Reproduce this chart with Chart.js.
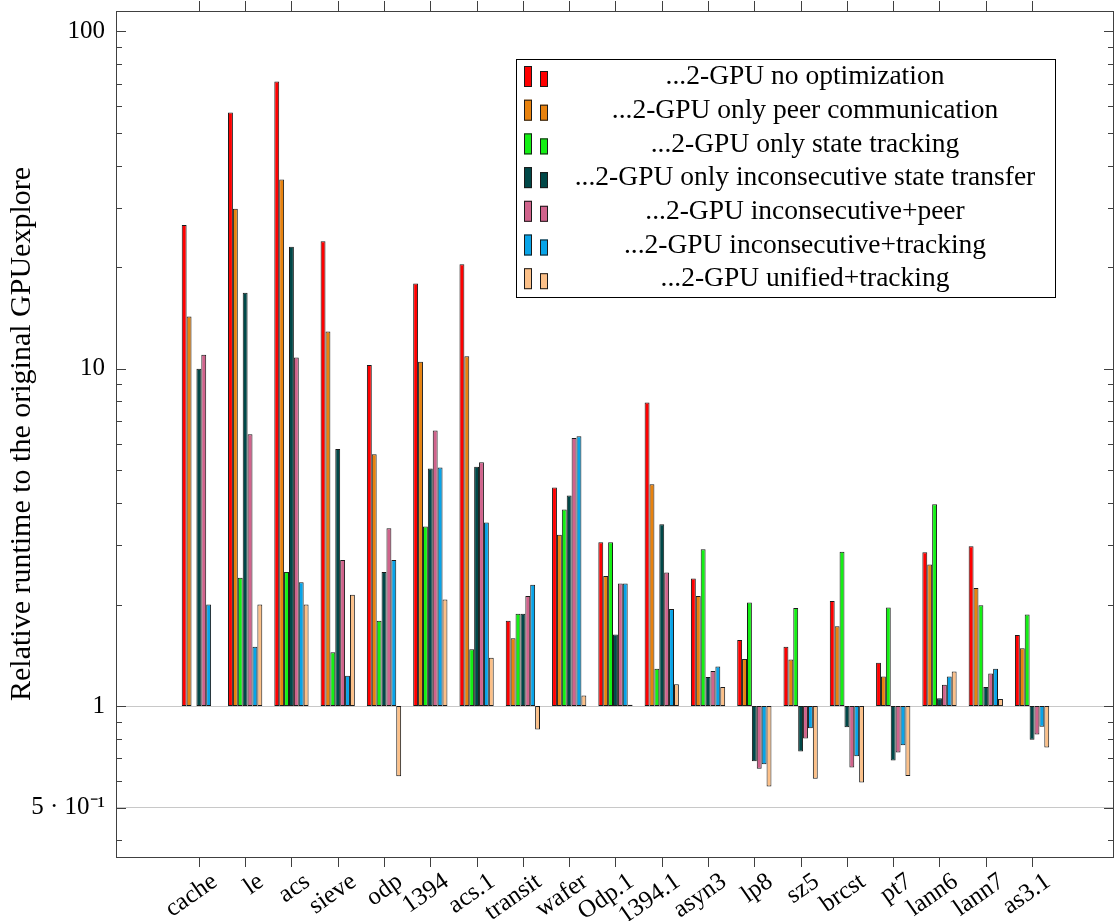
<!DOCTYPE html>
<html>
<head>
<meta charset="utf-8">
<script src="https://cdn.jsdelivr.net/npm/chart.js@4.4.0/dist/chart.umd.min.js"></script>
<style>
  html, body { margin: 0; padding: 0; background: #fff; }
  #wrap { width: 1115px; height: 921px; }
</style>
</head>
<body>
<div id="wrap"><canvas id="chart" width="1115" height="921"></canvas></div>
<script>
// ===== DATA =====
const categories = ['cache', 'le', 'acs', 'sieve', 'odp', '1394', 'acs.1', 'transit', 'wafer', 'Odp.1',
  '1394.1', 'asyn3', 'lp8', 'sz5', 'brcst', 'pt7', 'lann6', 'lann7', 'as3.1'];

const seriesLabels = [
  '...2-GPU no optimization',
  '...2-GPU only peer communication',
  '...2-GPU only state tracking',
  '...2-GPU only inconsecutive state transfer',
  '...2-GPU inconsecutive+peer',
  '...2-GPU inconsecutive+tracking',
  '...2-GPU unified+tracking'
];

const noOptimization  = [26.7, 57.5, 71.1, 23.9, 10.26, 17.9, 20.4, 1.79, 4.45, 3.06, 7.94, 2.39, 1.57, 1.50, 2.05, 1.344, 2.86, 2.98, 1.626];
const peerComm        = [14.3, 29.8, 36.4, 12.9, 5.58, 10.5, 10.9, 1.59, 3.22, 2.43, 4.55, 2.12, 1.38, 1.375, 1.726, 1.224, 2.63, 2.24, 1.485];
const stateTracking   = [1.0, 2.40, 2.50, 1.445, 1.79, 3.41, 1.475, 1.88, 3.83, 3.06, 1.29, 2.92, 2.03, 1.955, 2.87, 1.96, 3.97, 1.99, 1.87];
const inconsecutive   = [10.0, 16.8, 23.0, 5.78, 2.50, 5.06, 5.12, 1.88, 4.21, 1.63, 3.46, 1.22, 0.686, 0.734, 0.865, 0.69, 1.056, 1.14, 0.795];
const inconsPeer      = [11.0, 6.4, 10.8, 2.71, 3.37, 6.56, 5.28, 2.12, 6.24, 2.31, 2.49, 1.27, 0.652, 0.802, 0.658, 0.729, 1.157, 1.25, 0.824];
const inconsTracking  = [2.0, 1.5, 2.33, 1.23, 2.71, 5.10, 3.50, 2.29, 6.31, 2.31, 1.94, 1.31, 0.672, 0.859, 0.71, 0.766, 1.224, 1.29, 0.869];
const unifiedTracking = [1.0, 2.0, 2.0, 2.14, 0.62, 2.07, 1.39, 0.853, 1.076, 1.01, 1.16, 1.14, 0.578, 0.609, 0.594, 0.621, 1.267, 1.05, 0.754];

const seriesColors = ['#ff0000', '#e8820e', '#14f014', '#004848', '#d0638c', '#08a4e8', '#fcc088'];

const yTickValues = [100, 10, 1, 0.5];
const yTickLabels = ['100', '10', '1', '5 · 10⁻¹'];

// ===== CONFIG =====
const FONT = 'Liberation Serif';
const Y_MIN = 0.357, Y_MAX = 115;
const AXIS = '#404040';

const allSeries = [noOptimization, peerComm, stateTracking, inconsecutive, inconsPeer, inconsTracking, unifiedTracking];

const datasets = allSeries.map((vals, i) => ({
  label: seriesLabels[i],
  data: vals.map((v, j) => ({ x: j, y: [1, v] })),
  backgroundColor: seriesColors[i],
  borderColor: '#1a1a1a',
  borderWidth: 1,
  borderSkipped: false,
  categoryPercentage: 0.74,
  barPercentage: 1.0
}));

// frame, inner ticks and the boxed legend
const framePlugin = {
  id: 'frame',
  afterDraw(chart) {
    const { ctx, chartArea: a, scales } = chart;
    const y = scales.y, x = scales.x;
    ctx.save();
    ctx.strokeStyle = AXIS;
    ctx.lineWidth = 1;

    // y ticks, inside on both sides
    y.ticks.forEach(t => {
      const py = Math.round(y.getPixelForValue(t.value)) + 0.5;
      const len = yTickValues.includes(t.value) ? 10 : 6;
      ctx.beginPath();
      ctx.moveTo(a.left, py); ctx.lineTo(a.left + len, py);
      ctx.moveTo(a.right, py); ctx.lineTo(a.right - len, py);
      ctx.stroke();
    });

    // x ticks, outside top and bottom
    x.ticks.forEach(t => {
      const px = Math.round(x.getPixelForValue(t.value)) + 0.5;
      ctx.beginPath();
      ctx.moveTo(px, a.top); ctx.lineTo(px, a.top - 10);
      ctx.moveTo(px, a.bottom); ctx.lineTo(px, a.bottom + 10);
      ctx.stroke();
    });

    ctx.strokeRect(Math.round(a.left) + 0.5, Math.round(a.top) + 0.5,
      Math.round(a.right - a.left) - 1, Math.round(a.bottom - a.top));

    // legend
    const L = { left: 516, top: 59, right: 1055, bottom: 297 };
    ctx.fillStyle = '#fff';
    ctx.fillRect(L.left, L.top, L.right - L.left, L.bottom - L.top);
    ctx.strokeStyle = '#000';
    ctx.strokeRect(L.left + 0.5, L.top + 0.5, L.right - L.left, L.bottom - L.top);
    ctx.font = '27.5px "' + FONT + '"';
    ctx.textAlign = 'center';
    ctx.textBaseline = 'middle';
    chart.data.datasets.forEach((ds, i) => {
      const cy = 77 + i * 33.7;
      ctx.fillStyle = ds.backgroundColor;
      ctx.strokeStyle = '#1a1a1a';
      ctx.fillRect(524, cy - 11, 8, 21);
      ctx.strokeRect(524.5, cy - 10.5, 7, 20);
      ctx.fillRect(540, cy - 6, 8, 16);
      ctx.strokeRect(540.5, cy - 5.5, 7, 15);
      ctx.fillStyle = '#000';
      ctx.fillText(ds.label, 805, cy);
    });
    ctx.restore();
  }
};

new Chart(document.getElementById('chart'), {
  type: 'bar',
  data: { datasets },
  options: {
    responsive: false,
    animation: false,
    layout: { padding: { top: 11, right: 1, left: 0, bottom: 0 } },
    plugins: { legend: { display: false }, tooltip: { enabled: false } },
    scales: {
      x: {
        type: 'linear',
        min: -1.79,
        max: 19.77,
        offset: false,
        afterBuildTicks: s => { s.ticks = categories.map((c, i) => ({ value: i })); },
        afterFit: s => { s.height = 64; s.paddingLeft = 0; s.paddingRight = 0; },
        grid: { display: false, drawTicks: false },
        border: { display: false },
        ticks: {
          autoSkip: false,
          minRotation: 35,
          maxRotation: 35,
          padding: 10,
          labelOffset: 16,
          color: '#000',
          font: { family: FONT, size: 25 },
          callback: v => categories[v]
        }
      },
      y: {
        type: 'logarithmic',
        min: Y_MIN,
        max: Y_MAX,
        afterBuildTicks: s => {
          const ticks = [];
          [0.1, 1, 10].forEach(dec => {
            for (let k = 1; k <= 9; k++) {
              const v = +(k * dec).toPrecision(3);
              if (v >= Y_MIN && v <= Y_MAX) ticks.push({ value: v });
            }
          });
          ticks.push({ value: 100 });
          s.ticks = ticks;
        },
        afterFit: s => { s.width = 116; s.paddingTop = 0; s.paddingBottom = 0; },
        grid: {
          drawTicks: false,
          color: c => (c.tick && (c.tick.value === 1 || c.tick.value === 0.5)) ? '#c8c8c8' : 'rgba(0,0,0,0)'
        },
        border: { display: false },
        ticks: {
          autoSkip: false,
          padding: 11,
          color: '#000',
          font: { family: FONT, size: 25 },
          callback: v => {
            const k = yTickValues.indexOf(v);
            return k >= 0 ? yTickLabels[k] : '';
          }
        },
        title: {
          display: true,
          text: 'Relative runtime to the original GPUexplore',
          color: '#000',
          font: { family: FONT, size: 30 },
          padding: { top: 4, bottom: 0 }
        }
      }
    }
  },
  plugins: [framePlugin]
});
</script>
</body>
</html>
